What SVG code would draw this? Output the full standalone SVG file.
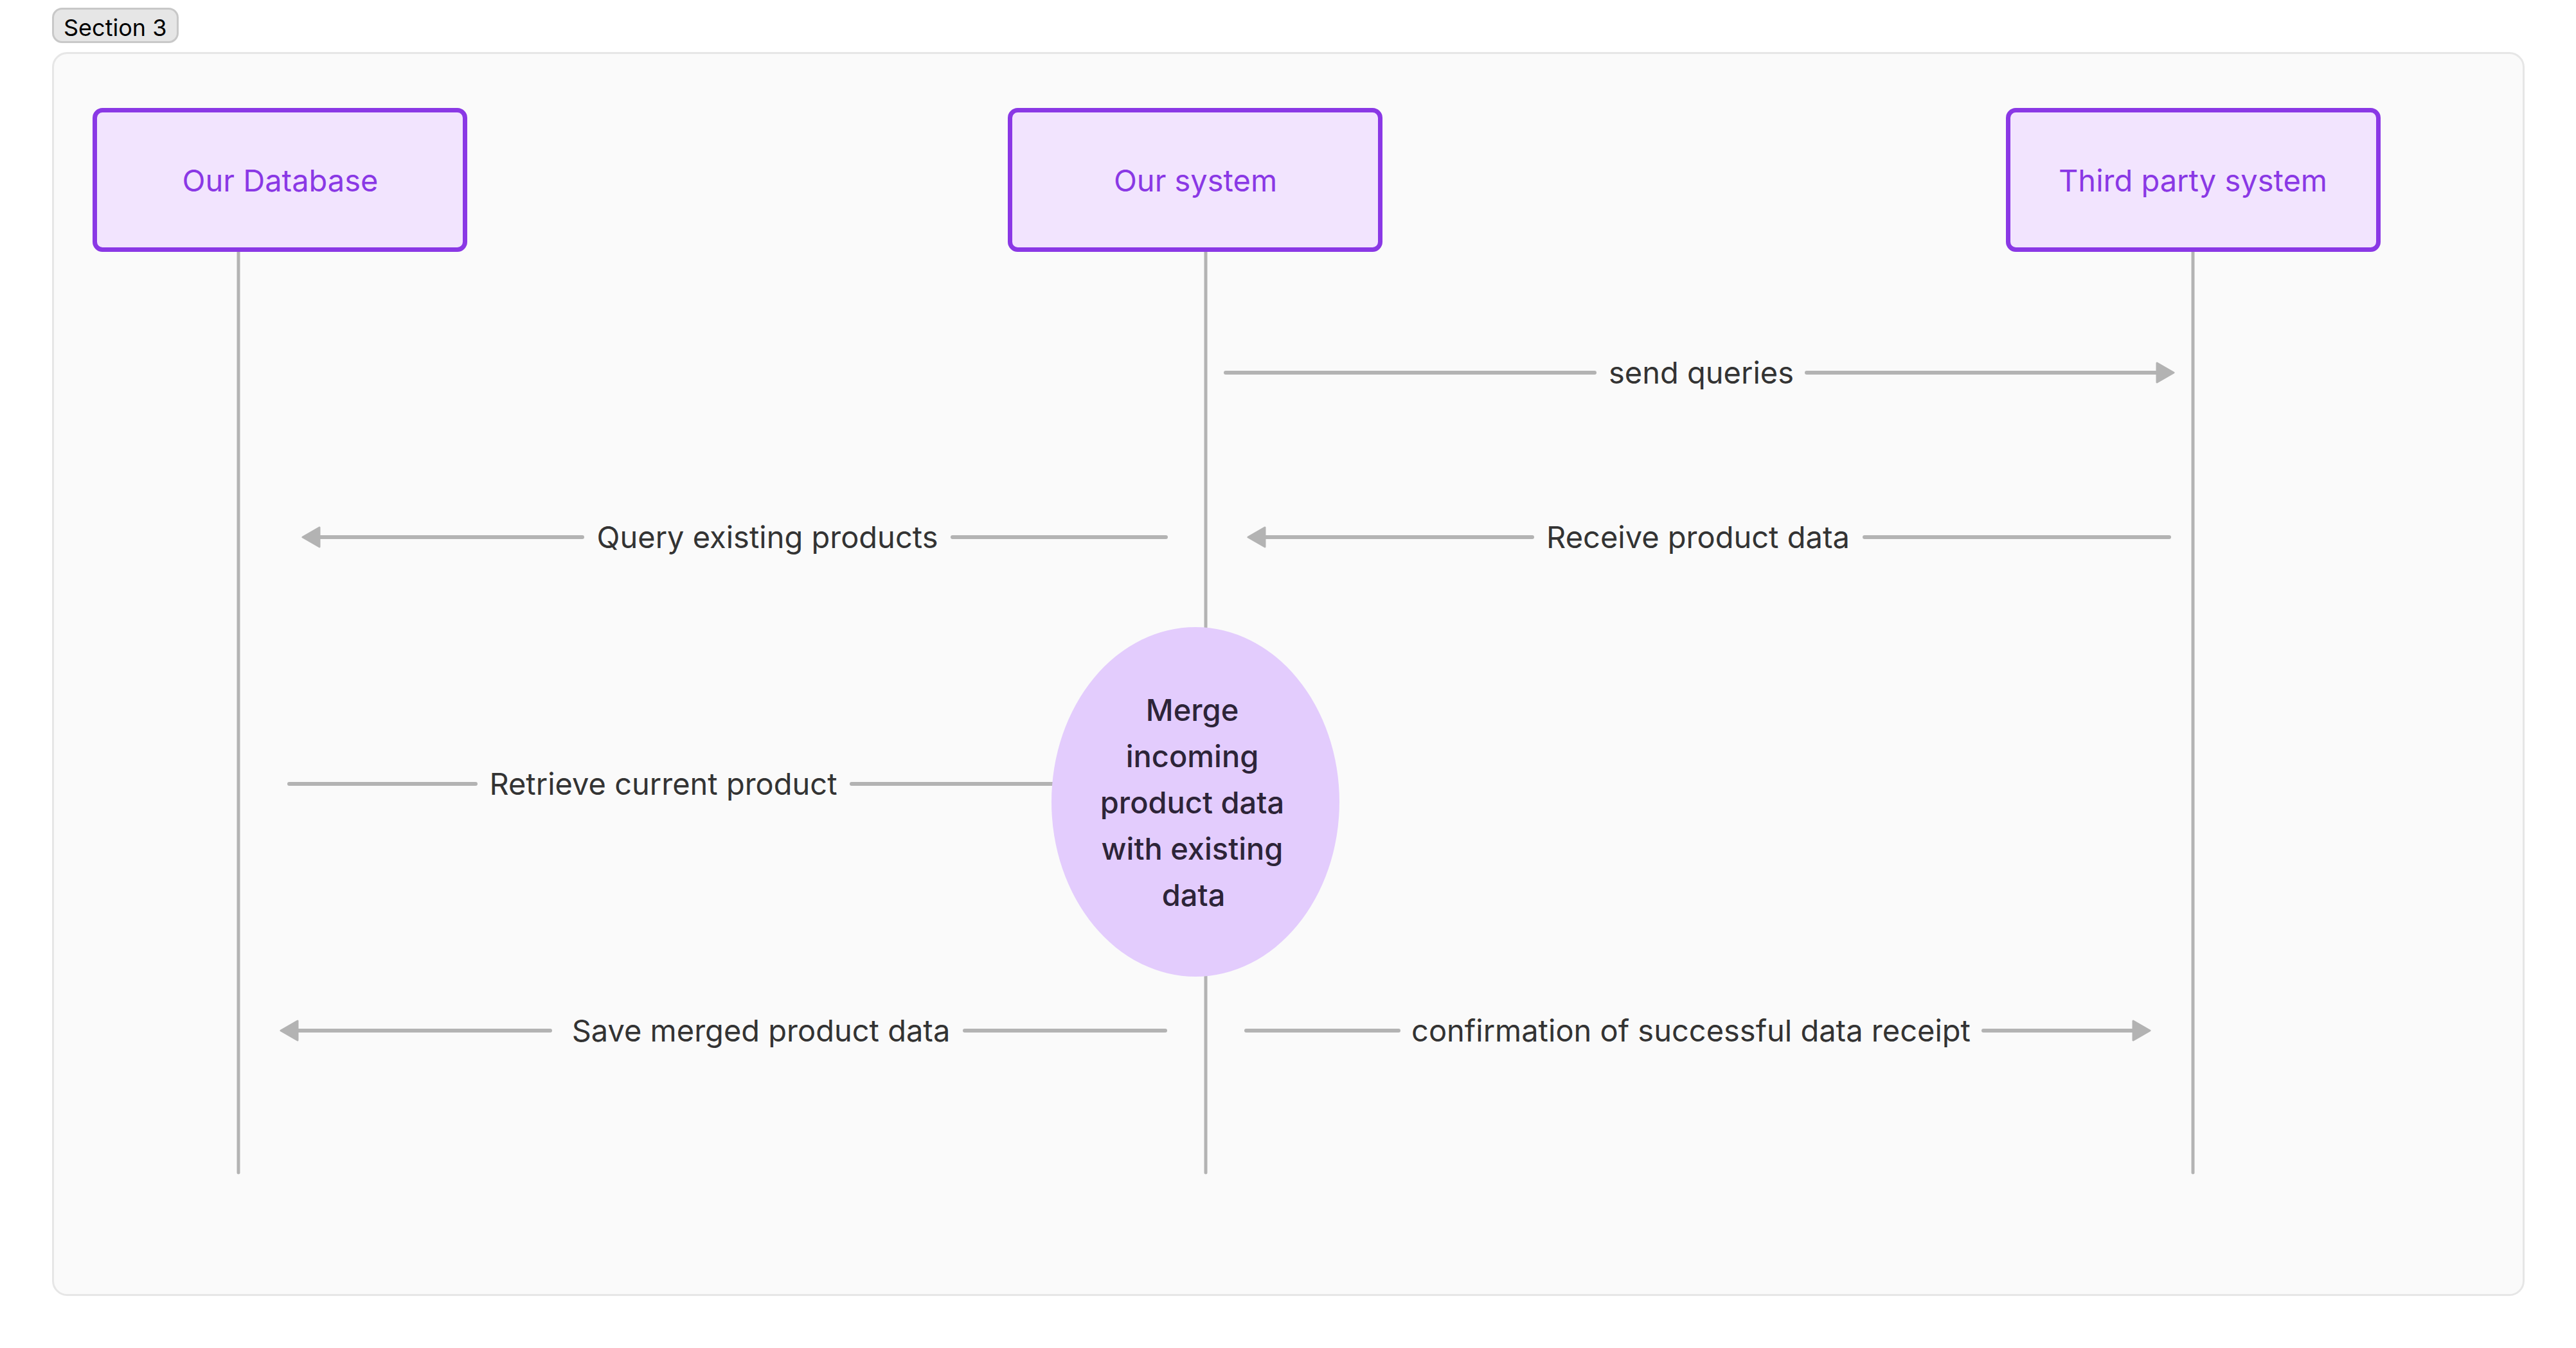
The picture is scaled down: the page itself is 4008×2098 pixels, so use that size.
<svg xmlns="http://www.w3.org/2000/svg" width="4008" height="2098" viewBox="0 0 4008 2098">
<style>
.actor rect{fill:#f2e4fe;stroke:#8a38e5;stroke-width:7}
.actor text{font-family:Inter,"Noto Sans","Liberation Sans",sans-serif;font-size:47px;fill:#8a38e5;text-anchor:middle}
.life{stroke:#b3b3b3;stroke-width:5;stroke-linecap:round;fill:none}
.msg{stroke:#b3b3b3;stroke-width:6;stroke-linecap:round;fill:none}
.lbl{font-family:Inter,"Noto Sans","Liberation Sans",sans-serif;font-size:47px;fill:#333333;text-anchor:middle}
.proc text{font-family:Inter,"Noto Sans","Liberation Sans",sans-serif;font-size:47px;fill:#2d2438;text-anchor:middle;font-weight:500}
</style>
<defs>
<marker id="ah" viewBox="-2 -2 30 34" refX="16" refY="15" markerWidth="30" markerHeight="34" markerUnits="userSpaceOnUse" orient="auto">
<path d="M0,0 L26,15 L0,30 z" fill="#b3b3b3" stroke="#b3b3b3" stroke-width="3" stroke-linejoin="round"/>
</marker>
</defs>
<rect width="4008" height="2098" fill="#ffffff"/>
<g id="section">
<rect x="82.5" y="82.5" width="3844" height="1933" rx="22" fill="#fafafa" stroke="#e6e6e6" stroke-width="3"/>
<rect x="82.5" y="13.5" width="194" height="52" rx="14" fill="#e6e6e6" stroke="#c8c8c8" stroke-width="3"/>
<text x="99" y="56" font-family="Inter,'Noto Sans','Liberation Sans',sans-serif" font-size="36" fill="#000000">Section 3</text>
</g>
<g id="lifelines">
<line class="life" x1="371" y1="392" x2="371" y2="1825"/>
<line class="life" x1="1876" y1="392" x2="1876" y2="1825"/>
<line class="life" x1="3412" y1="392" x2="3412" y2="1825"/>
</g>
<g id="connectors">
<g id="m1">
<path class="msg" d="M1907,580 H2481"/>
<path class="msg" d="M2811,580 H3372" marker-end="url(#ah)"/>
<text class="lbl" x="2647" y="597">send queries</text>
</g>
<g id="m2">
<path class="msg" d="M1814,836 H1482"/>
<path class="msg" d="M906,836 H481" marker-end="url(#ah)"/>
<text class="lbl" x="1194" y="853">Query existing products</text>
</g>
<g id="m3">
<path class="msg" d="M3375,836 H2901"/>
<path class="msg" d="M2384,836 H1952" marker-end="url(#ah)"/>
<text class="lbl" x="2642" y="853">Receive product data</text>
</g>
<g id="m4">
<path class="msg" d="M450,1220 H740"/>
<path class="msg" d="M1325,1220 H1650"/>
<text class="lbl" x="1032" y="1237">Retrieve current product</text>
</g>
<g id="m5">
<path class="msg" d="M1813,1604 H1501"/>
<path class="msg" d="M856,1604 H447" marker-end="url(#ah)"/>
<text class="lbl" x="1184" y="1621">Save merged product data</text>
</g>
<g id="m6">
<path class="msg" d="M1939,1604 H2176"/>
<path class="msg" d="M3086,1604 H3335" marker-end="url(#ah)"/>
<text class="lbl" x="2631" y="1621">confirmation of successful data receipt</text>
</g>
</g>
<g id="merge" class="proc">
<ellipse cx="1860" cy="1248" rx="224" ry="272" fill="#e3ccfd"/>
<text x="1855" y="1122">Merge</text>
<text x="1855" y="1194">incoming</text>
<text x="1855" y="1266">product data</text>
<text x="1855" y="1338">with existing</text>
<text x="1857" y="1410">data</text>
</g>
<g id="our-database" class="actor">
<rect x="147.5" y="171.5" width="576" height="217" rx="12"/>
<text x="436" y="298">Our Database</text>
</g>
<g id="our-system" class="actor">
<rect x="1571.5" y="171.5" width="576" height="217" rx="12"/>
<text x="1860" y="298">Our system</text>
</g>
<g id="third-party-system" class="actor">
<rect x="3124.5" y="171.5" width="576" height="217" rx="12"/>
<text x="3412" y="298">Third party system</text>
</g>
</svg>
